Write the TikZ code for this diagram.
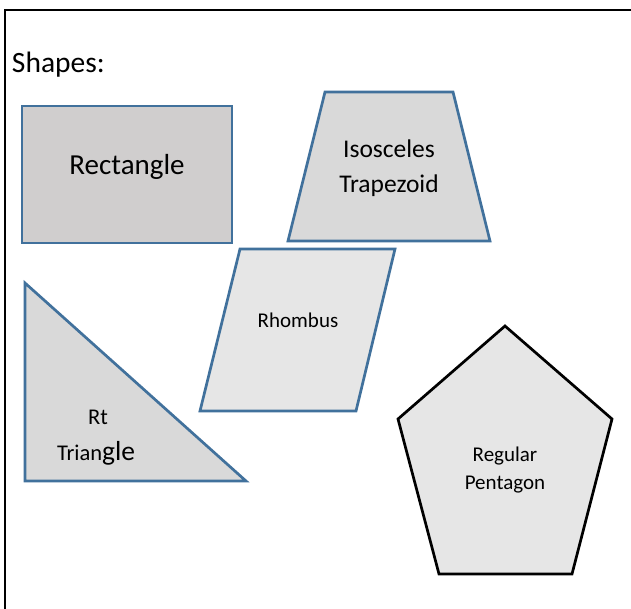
\documentclass[tikz,border=0pt]{standalone}
\usepackage{fontspec}
\setmainfont{Carlito}
\definecolor{outblue}{HTML}{41719C}
\definecolor{fillA}{HTML}{D0CECE}
\definecolor{fillB}{HTML}{D9D9D9}
\definecolor{fillC}{HTML}{E6E6E6}
\begin{document}
\begin{tikzpicture}[x=1pt,y=-1pt,
  blueshape/.style={draw=outblue,line width=2.7pt,line join=miter},
  blackshape/.style={draw=black,line width=2.7pt,line join=miter},
  lbl/.style={anchor=base,inner sep=0pt,outer sep=0pt},
  fs/.style={font=\fontsize{#1}{#1}\selectfont}]
\useasboundingbox (0,0) rectangle (631,608);
\clip (0,0) rectangle (631,608);
\fill[white] (0,0) rectangle (631,608);
% frame
\draw[line width=2.6pt] (5,615) -- (5,10) -- (640,10);
% title
\node[lbl,anchor=base west,fs=29.5] (title) at (12,72) {Shapes:};
% rectangle
\draw[blueshape,fill=fillA] (22,106) rectangle (232,243);
\node[lbl,fs=29] (rect) at (127,174) {Rectangle};
% trapezoid
\draw[blueshape,fill=fillB] (325,92) -- (453,92) -- (490,241) -- (288,241) -- cycle;
\node[lbl,fs=25.5] (trap1) at (389,157) {Isosceles};
\node[lbl,fs=25.5] (trap2) at (389,192) {Trapezoid};
% rhombus
\draw[blueshape,fill=fillC] (240,249) -- (395,249) -- (356,411) -- (200,411) -- cycle;
\node[lbl,fs=21] (rhomb) at (298,327) {Rhombus};
% right triangle
\draw[blueshape,fill=fillB] (25,283) -- (246,481) -- (25,481) -- cycle;
\node[lbl,fs=22.5] (tri1) at (98,424) {Rt};
\node[lbl,anchor=base west] (tri2) at (57,460) {\fontsize{22.5}{22.5}\selectfont Trian\fontsize{27.5}{27.5}\selectfont gle};
% pentagon
\draw[blackshape,fill=fillC] (505,326) -- (612,419) -- (572,574) -- (439,574) -- (398,419) -- cycle;
\node[lbl,fs=21] (pent1) at (505,461) {Regular};
\node[lbl,fs=21] (pent2) at (505,489) {Pentagon};
\end{tikzpicture}
\end{document}
